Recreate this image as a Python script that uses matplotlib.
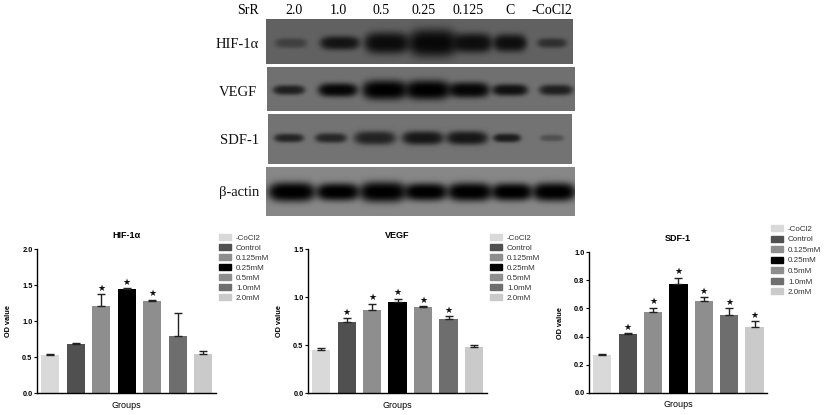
import numpy as np
from matplotlib import pyplot as plt
from matplotlib.patches import Patch

W, H = 825, 415

groups = ['-CoCl2', 'Control', '0.125mM', '0.25mM', '0.5mM', '1.0mM', '2.0mM']
bar_colors = ['#d9d9d9', '#505050', '#8e8e8e', '#000000', '#8e8e8e', '#6e6e6e', '#cacaca']

hif_vals = [0.53, 0.68, 1.21, 1.45, 1.28, 0.79, 0.55]
hif_err = [0.02, 0.02, 0.16, 0.005, 0.02, 0.32, 0.03]
hif_stars = [0, 0, 1, 1, 1, 0, 0]

vegf_vals = [0.45, 0.74, 0.87, 0.95, 0.90, 0.77, 0.48]
vegf_err = [0.02, 0.04, 0.06, 0.035, 0.005, 0.035, 0.02]
vegf_stars = [0, 1, 1, 1, 1, 1, 0]

sdf_vals = [0.27, 0.415, 0.575, 0.775, 0.65, 0.55, 0.465]
sdf_err = [0.005, 0.01, 0.03, 0.045, 0.03, 0.05, 0.045]
sdf_stars = [0, 1, 1, 1, 1, 1, 1]

lanes = ['2.0', '1.0', '0.5', '0.25', '0.125', 'C', '-CoCl2']
lane_x = [294, 338, 381, 424, 468, 510, 552]

# band centre x, half width, half height, darkness for each blot
hif_bands = ([291, 340, 387, 433, 473, 510, 552], [16, 20, 23, 25, 20, 17, 15],
             [5, 7, 11, 14, 10, 9, 5], [0.35, 0.8, 0.88, 0.92, 0.86, 0.85, 0.5])
vegf_bands = ([289, 338, 385, 428, 469, 510, 556], [16, 20, 23, 23, 21, 18, 17],
              [5, 7, 10, 10, 8, 6, 5.5], [0.72, 0.95, 1.0, 1.0, 0.95, 0.85, 0.72])
sdf_bands = ([289, 331, 375, 423, 467, 507, 552], [15, 16, 21, 21, 21, 14, 12],
             [4.5, 5, 7, 7, 7, 4.5, 3.5], [0.68, 0.66, 0.7, 0.8, 0.8, 0.75, 0.3])
actin_bands = ([292, 338, 383, 426, 470, 512, 554], [24, 22, 24, 22, 23, 21, 22],
               [10, 9, 10.5, 9, 9.5, 9, 9.5], [1.0, 1.0, 1.0, 1.0, 1.0, 1.0, 1.0])

blots = [
    ('HIF-1\u03b1', (266, 573, 19, 64), 43, 0.38, hif_bands, 237, 45),
    ('VEGF', (267, 575, 67, 111), 90, 0.44, vegf_bands, 238, 92),
    ('SDF-1', (268, 572, 114, 164), 138, 0.45, sdf_bands, 240, 140),
    ('\u03b2-actin', (266, 575, 167, 216), 192, 0.53, actin_bands, 239, 192),
]

plt.rcParams['font.family'] = ['Liberation Sans', 'DejaVu Sans']
fig = plt.figure(figsize=(W / 100, H / 100), dpi=100)


def px_axes(x0, x1, y0, y1):
    return fig.add_axes([x0 / W, 1 - y1 / H, (x1 - x0) / W, (y1 - y0) / H])


def draw_blot(name, box, yc, grey, bands, lx, ly):
    x0, x1, y0, y1 = box
    ax = px_axes(x0, x1, y0, y1)
    xx, yy = np.meshgrid(np.arange(x0, x1) + 0.5, np.arange(y0, y1) + 0.5)
    img = np.full(xx.shape, grey)
    for cx, wx, hy, dark in zip(*bands):
        # flattened lozenge so the bands look like the real film
        r = ((xx - cx) / wx) ** 4 + ((yy - yc) / hy) ** 2
        img = img * (1 - dark * np.exp(-r ** 1.5))
    ax.imshow(img, cmap='gray', vmin=0, vmax=1, aspect='auto', interpolation='bilinear')
    ax.axis('off')
    fig.text(lx / W, 1 - ly / H, name, family=['Liberation Serif', 'DejaVu Serif'],
             fontsize=10.5, ha='center', va='center', color='#111111')


def draw_bars(box, title, vals, err, stars, ymax, yticks, yfmt, legend_xy, spacing):
    left, right, top, bottom = box
    ax = px_axes(left, right, top, bottom)
    x = np.arange(len(vals))
    ax.bar(x, vals, width=0.72, color=bar_colors)
    ax.errorbar(x, vals, yerr=[np.zeros(len(err)), err], fmt='none', ecolor='#222222',
                elinewidth=1.0, capsize=3.2, capthick=1.0)
    for i in x:
        if stars[i]:
            ax.annotate('\u2605', (i, vals[i] + err[i]), xytext=(0, 1), textcoords='offset points',
                        ha='center', va='bottom', fontsize=6.5, family='DejaVu Sans', color='#111111')
    ax.set_xlim(-0.51, 6.5)
    ax.set_ylim(0, ymax)
    ax.set_xticks([])
    ax.set_yticks(yticks)
    ax.set_yticklabels([yfmt % t for t in yticks], fontsize=5.3, fontweight='bold')
    ax.tick_params(axis='y', length=2.5, width=0.8, pad=1)
    for s in ['top', 'right']:
        ax.spines[s].set_visible(False)
    for s in ['left', 'bottom']:
        ax.spines[s].set_linewidth(1.0)
    ax.set_title(title, fontsize=6.5, fontweight='bold', pad=8)
    ax.set_xlabel('Groups', fontsize=6.5, labelpad=5.5)
    ax.set_ylabel('OD value', fontsize=5.3, fontweight='bold', labelpad=7)
    handles = [Patch(color=c, label=g) for c, g in zip(bar_colors, groups)]
    fig.legend(handles=handles, loc='upper left',
               bbox_to_anchor=(legend_xy[0] / W, 1 - legend_xy[1] / H), frameon=False,
               fontsize=5.8, borderpad=0, borderaxespad=0, handlelength=1.5, handleheight=0.8,
               handletextpad=0.6, labelspacing=spacing - 0.03, labelcolor='#333333')


for b in blots:
    draw_blot(*b)

fig.text(248 / W, 1 - 10 / H, 'SrR', family='Liberation Serif', fontsize=10, ha='center', va='center')
for lane, lx in zip(lanes, lane_x):
    fig.text(lx / W, 1 - 10 / H, lane, family='Liberation Serif', fontsize=10, ha='center', va='center')

draw_bars((37.3, 216, 249, 393.3), 'HIF-1\u03b1', hif_vals, hif_err, hif_stars, 2.0,
          [0, 0.5, 1.0, 1.5, 2.0], '%.1f', (219, 234), 0.3)
draw_bars((308.3, 486.7, 249, 393.3), 'VEGF', vegf_vals, vegf_err, vegf_stars, 1.5,
          [0, 0.5, 1.0, 1.5], '%.1f', (490, 234), 0.3)
draw_bars((589.3, 767.3, 252.3, 392.7), 'SDF-1', sdf_vals, sdf_err, sdf_stars, 1.0,
          [0, 0.2, 0.4, 0.6, 0.8, 1.0], '%.1f', (771, 225), 0.36)

fig.savefig('out.png', dpi=100)
